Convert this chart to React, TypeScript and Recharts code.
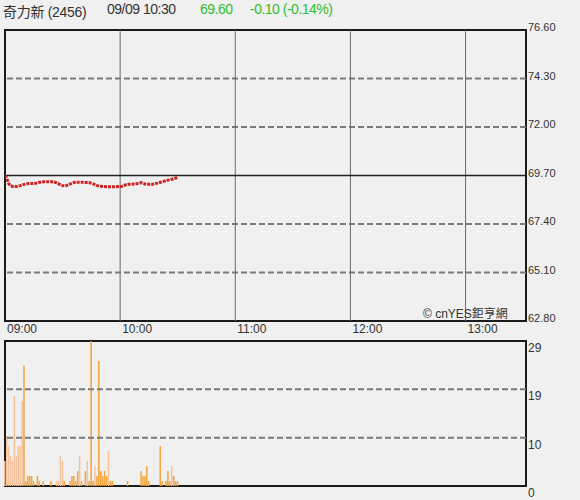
import {
  LineChart,
  Line,
  BarChart,
  Bar,
  Cell,
  XAxis,
  YAxis,
  ReferenceLine,
  ReferenceArea,
} from "recharts";

// minutes since 09:00, one entry per minute up to 10:30
const prices = [
  69.7, 69.55, 69.3, 69.22, 69.18, 69.18, 69.18, 69.2, 69.22, 69.25,
  69.28, 69.3, 69.32, 69.33, 69.32, 69.32, 69.33, 69.36, 69.38, 69.38,
  69.4, 69.4, 69.4, 69.4, 69.4, 69.4, 69.38, 69.35, 69.3, 69.25,
  69.22, 69.21, 69.22, 69.26, 69.3, 69.34, 69.37, 69.38, 69.38, 69.38,
  69.38, 69.38, 69.37, 69.37, 69.36, 69.34, 69.3, 69.26, 69.22, 69.2,
  69.19, 69.18, 69.18, 69.17, 69.17, 69.17, 69.17, 69.17, 69.17, 69.18,
  69.18, 69.19, 69.22, 69.26, 69.28, 69.28, 69.28, 69.3, 69.3, 69.32,
  69.33, 69.36, 69.33, 69.3, 69.28, 69.28, 69.28, 69.28, 69.3, 69.33,
  69.36, 69.38, 69.4, 69.43, 69.46, 69.48, 69.5, 69.52, 69.55, 69.58,
  69.6,
];

const volumes = [
  5, 10, 8, 6, 5, 18, 6, 8, 8, 17,
  24, 1, 2, 2, 2, 1, 0, 2, 1, 0,
  1, 0, 0, 0, 1, 0, 0, 1, 1, 6,
  5, 1, 0, 0, 1, 2, 2, 1, 3, 6,
  1, 0, 3, 5, 1, 29, 1, 4, 2, 25,
  3, 2, 3, 2, 7, 1, 1, 0, 0, 0,
  0, 0, 0, 0, 1, 0, 0, 0, 0, 0,
  0, 3, 2, 2, 4, 1, 0, 0, 0, 0,
  0, 8, 1, 0, 1, 3, 1, 4, 2, 1,
  1,
];

// 1 = light (peach) bar, 0 = orange bar
const volLight = [
  1, 1, 1, 1, 1, 1, 1, 1, 1, 1,
  0, 0, 0, 0, 0, 0, 0, 0, 0, 0,
  0, 0, 0, 0, 0, 0, 0, 1, 1, 1,
  1, 0, 0, 0, 0, 0, 0, 0, 0, 1,
  0, 0, 0, 1, 0, 0, 0, 1, 0, 0,
  0, 0, 0, 0, 1, 0, 0, 0, 0, 0,
  0, 0, 0, 0, 0, 0, 0, 0, 0, 0,
  0, 0, 0, 0, 0, 0, 0, 0, 0, 0,
  0, 0, 0, 0, 0, 0, 0, 1, 0, 0,
  0,
];

const timeTicks = [0, 60, 120, 180, 240];
const timeLabels = ["09:00", "10:00", "11:00", "12:00", "13:00"];
const timeEnd = 271.5;
const priceTicks = [62.8, 65.1, 67.4, 69.7, 72.0, 74.3, 76.6];
const priceDashed = [65.1, 67.4, 72.0, 74.3];
const prevClose = 69.7;
const volTicks = [0, 9.67, 19.33, 29];
const volLabels = ["0", "10", "19", "29"];

const priceData = prices.map((p, i) => ({ m: i, price: p }));
const volData = volumes.map((v, i) => ({ m: i, vol: v }));

const font = "Arial, 'Liberation Sans', 'Noto Sans CJK TC', sans-serif";

export default function App() {
  return (
    <div
      style={{
        position: "fixed",
        left: 0,
        top: 0,
        width: 580,
        height: 500,
        background: "#f0f0f0",
        fontFamily: font,
        overflow: "hidden",
      }}
    >
      <div style={{ position: "absolute", top: 1, left: 3, fontSize: 14, color: "#333", whiteSpace: "nowrap", letterSpacing: -0.3 }}>
        奇力新 (2456)
      </div>
      <div style={{ position: "absolute", top: 1, left: 107, fontSize: 14, color: "#333", letterSpacing: -0.5 }}>
        09/09 10:30
      </div>
      <div style={{ position: "absolute", top: 1, left: 200, fontSize: 14, color: "#2fbf2f", letterSpacing: -0.5 }}>
        69.60
      </div>
      <div style={{ position: "absolute", top: 1, left: 250, fontSize: 14, color: "#2fbf2f", letterSpacing: -0.5 }}>
        -0.10 (-0.14%)
      </div>

      <div style={{ position: "absolute", top: 0, left: 0 }}>
        <LineChart width={580} height={340} data={priceData} margin={{ top: 30, right: 0, left: 5, bottom: 1 }}>
          <XAxis
            dataKey="m"
            type="number"
            domain={[0, timeEnd]}
            ticks={timeTicks}
            interval={0}
            height={18}
            axisLine={false}
            tickLine={false}
            tickSize={0}
            tickMargin={0}
            allowDataOverflow
            tick={(p: any) => (
              <text x={p.x + 2} y={p.y} dy={12} fontSize={12} fill="#333" textAnchor="start" fontFamily={font}>
                {timeLabels[timeTicks.indexOf(p.payload.value)]}
              </text>
            )}
          />
          <YAxis
            orientation="right"
            width={54}
            domain={[62.8, 76.6]}
            ticks={priceTicks}
            interval={0}
            axisLine={false}
            tickLine={false}
            tickSize={0}
            tickMargin={2}
            allowDataOverflow
            tick={(p: any) => (
              <text x={p.x} y={p.y} dy={1} fontSize={11} fill="#333" textAnchor="start" fontFamily={font}>
                {Number(p.payload.value).toFixed(2)}
              </text>
            )}
          />
          {priceDashed.map((v) => (
            <ReferenceLine key={v} y={v} stroke="#7a7a7a" strokeWidth={2} strokeDasharray="6 3" />
          ))}
          {timeTicks.slice(1).map((t) => (
            <ReferenceLine key={t} x={t} stroke="#6a6a6a" strokeWidth={1} />
          ))}
          <ReferenceLine y={prevClose} stroke="#222" strokeWidth={1.5} />
          <Line
            type="linear"
            dataKey="price"
            stroke="#cc2222"
            strokeWidth={3}
            strokeDasharray="3 1"
            dot={false}
            isAnimationActive={false}
          />
          <ReferenceArea x1={0} x2={timeEnd} y1={62.8} y2={76.6} fill="none" stroke="#1a1a1a" strokeWidth={2} />
        </LineChart>
      </div>

      <div style={{ position: "absolute", top: 308, left: 423, fontSize: 12, lineHeight: "12px", color: "#333", whiteSpace: "nowrap" }}>
        © cnYES鉅亨網
      </div>

      <div style={{ position: "absolute", top: 335, left: 0 }}>
        <BarChart width={580} height={165} data={volData} margin={{ top: 6, right: 0, left: 5, bottom: 14 }}>
          <XAxis dataKey="m" type="number" domain={[0, timeEnd]} hide />
          <YAxis
            orientation="right"
            width={54}
            domain={[0, 29]}
            ticks={volTicks}
            interval={0}
            axisLine={false}
            tickLine={false}
            tickSize={0}
            tickMargin={2}
            allowDataOverflow
            tick={(p: any) => (
              <text x={p.x} y={p.y} dy={11} fontSize={12} fill="#333" textAnchor="start" fontFamily={font}>
                {volLabels[volTicks.indexOf(p.payload.value)]}
              </text>
            )}
          />
          {volTicks.slice(1, 3).map((v) => (
            <ReferenceLine key={v} y={v} stroke="#7a7a7a" strokeWidth={2} strokeDasharray="6 3" />
          ))}
          <Bar dataKey="vol" barSize={1.5} isAnimationActive={false}>
            {volData.map((d, i) => (
              <Cell key={i} fill={volLight[i] ? "#f6c29b" : "#f3a33c"} />
            ))}
          </Bar>
          <ReferenceArea x1={0} x2={timeEnd} y1={0} y2={29} fill="none" stroke="#1a1a1a" strokeWidth={2} />
        </BarChart>
      </div>
    </div>
  );
}
